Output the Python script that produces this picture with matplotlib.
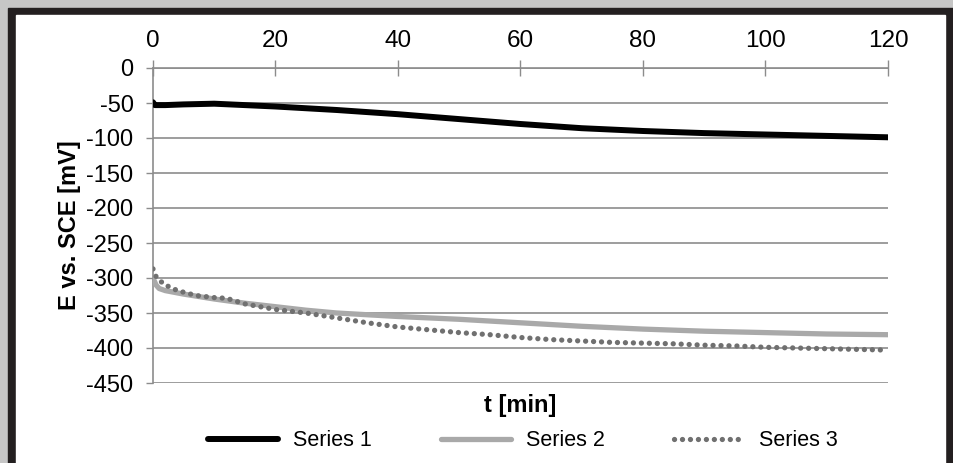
import numpy as np
import matplotlib
matplotlib.use("Agg")
import matplotlib.pyplot as plt
from matplotlib.patches import Rectangle

plt.rcParams['font.family'] = ['Liberation Sans', 'DejaVu Sans']
plt.rcParams['axes.unicode_minus'] = False

# dane
t1 = [0, 0.3, 2, 5, 10, 15, 20, 30, 40, 50, 60, 70, 80, 90, 100, 110, 120]
e1 = [-49, -53, -53, -52, -51, -53, -55, -60, -66, -73, -80, -86, -90, -93, -95, -97, -99]

t2 = [0, 0.5, 1, 2, 5, 10, 15, 20, 25, 30, 40, 50, 60, 70, 80, 90, 100, 110, 120]
e2 = [-300, -310, -315, -318, -323, -330, -336, -341, -346, -350, -355, -359, -364, -369,
      -373, -376, -378, -380, -381]

t3 = [0, 0.5, 1, 2, 4, 7, 10, 12, 15, 20, 25, 30, 35, 40, 45, 50, 55, 60, 65, 70, 75,
      80, 85, 90, 95, 100, 105, 110, 115, 120]
e3 = [-287, -298, -303, -310, -318, -325, -328, -329, -337, -345, -350, -357, -364, -370,
      -374, -378, -381, -385, -388, -390, -392, -393, -394, -396, -397, -399, -400, -401,
      -402, -403]

series_names = ["Series 1", "Series 2", "Series 3"]
x_ticks = [0, 20, 40, 60, 80, 100, 120]
y_ticks = [0, -50, -100, -150, -200, -250, -300, -350, -400, -450]

W, H = 954, 463
fig = plt.figure(figsize=(W / 100, H / 100), dpi=100, facecolor="#c6c6c6")

# ramka
fig.patches.append(Rectangle((8 / W, 0), (W - 8) / W, (H - 8) / H,
                             transform=fig.transFigure, color="#231f20", zorder=-10))
fig.patches.append(Rectangle((16 / W, 0), (945 - 16) / W, (H - 15) / H,
                             transform=fig.transFigure, color="white", zorder=-9))

ax = fig.add_axes([153 / W, 1 - 383 / H, (888 - 153) / W, (383 - 68) / H])
ax.set_facecolor("none")

grid_c = "#8c8c8c"
ax.plot(t1, e1, color="black", lw=4.3, solid_capstyle="round", label=series_names[0], zorder=4)
ax.plot(t2, e2, color="#a9a9a9", lw=3.8, solid_capstyle="round", label=series_names[1], zorder=3)
ax.plot(t3, e3, color="#707070", lw=3.8, linestyle=(0, (0.01, 1.5)),
        dash_capstyle="round", label=series_names[2], zorder=5)

ax.set_xlim(0, 120)
ax.set_ylim(-450, 0)
ax.xaxis.tick_top()
ax.set_xticks(x_ticks)
ax.set_yticks(y_ticks)
ax.tick_params(axis="x", direction="inout", length=11, width=1, color=grid_c,
               labelsize=17.5, pad=6)
ax.tick_params(axis="y", direction="out", length=5, width=1, color=grid_c,
               labelsize=17, pad=9)
ax.yaxis.grid(True, color=grid_c, lw=1.2)
for s in ["right", "bottom"]:
    ax.spines[s].set_visible(False)
for s in ["left", "top"]:
    ax.spines[s].set_color(grid_c)
    ax.spines[s].set_linewidth(1.2)

ax.text(-0.113, 0.5, "E vs. SCE [mV]", transform=ax.transAxes, rotation=90,
        ha="center", va="center", fontsize=17, fontweight="bold")
ax.text(0.5, -0.07, "t [min]", transform=ax.transAxes, ha="center", va="center",
        fontsize=17, fontweight="bold")

ax.legend(loc="center", bbox_to_anchor=(0.503, -0.184), ncol=3, frameon=False,
          fontsize=15.5, handlelength=3.25, columnspacing=3.2, handletextpad=0.7)

fig.savefig("out.png", dpi=100, facecolor=fig.get_facecolor())
